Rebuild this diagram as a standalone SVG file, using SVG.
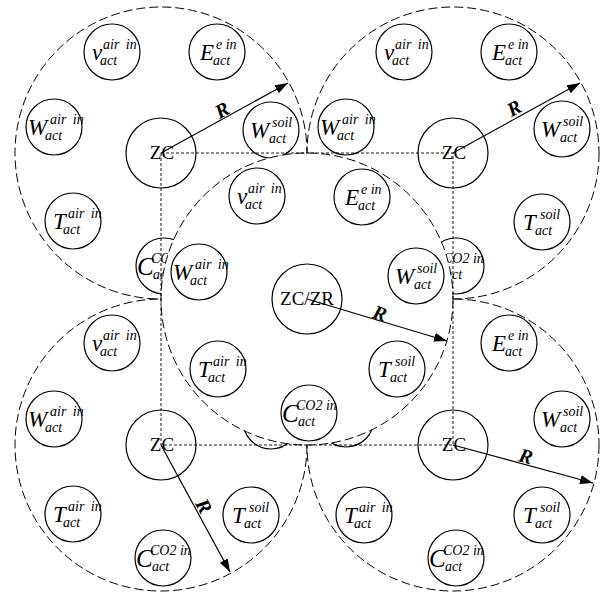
<svg xmlns="http://www.w3.org/2000/svg" width="603" height="592" viewBox="0 0 603 592">
<defs>
<style>
.zone{fill:none;stroke:#000;stroke-width:1;stroke-dasharray:9 4}
.zonec{fill:#fff;stroke:#000;stroke-width:1;stroke-dasharray:9 4}
.node{fill:none;stroke:#000;stroke-width:1.2}
.zcc{fill:none;stroke:#000;stroke-width:1.2}
.sq{fill:none;stroke:#000;stroke-width:0.9;stroke-dasharray:3 2}
.arr{fill:none;stroke:#000;stroke-width:1.2;marker-end:url(#ah)}
.m{font-family:"Liberation Serif",serif;font-style:italic;font-size:23px}
.mc{font-family:"Liberation Serif",serif;font-style:italic;font-size:25px}
.s{font-family:"Liberation Serif",serif;font-style:italic;font-size:14px}
.sw{font-family:"Liberation Serif",serif;font-style:italic;font-size:14px;word-spacing:3px}
.zc{font-family:"Liberation Serif",serif;font-size:19px;text-anchor:middle}
.r{font-family:"Liberation Serif",serif;font-style:italic;font-weight:bold;font-size:20px;text-anchor:middle}
</style>
<marker id="ah" markerUnits="userSpaceOnUse" markerWidth="14" markerHeight="10" refX="13" refY="4.5" orient="auto">
<path d="M0,0 L13,4.5 L0,9 z" fill="#000"/>
</marker>
</defs>
<rect width="603" height="592" fill="#fff"/>

<g id="zone-tl"><circle class="zone" cx="161" cy="153" r="146"/></g>
<g id="zone-tr"><circle class="zone" cx="453" cy="153" r="146"/></g>
<g id="zone-bl"><circle class="zone" cx="161" cy="445" r="146"/></g>
<g id="zone-br"><circle class="zone" cx="453" cy="445" r="146"/></g>

<g id="tl-v"><circle class="node" cx="112" cy="52" r="28"/><text class="m" x="92" y="60">v</text><text class="sw" x="103" y="49">air in</text><text class="s" x="100" y="65">act</text></g>
<g id="tl-e"><circle class="node" cx="217" cy="52" r="28"/><text class="m" x="200" y="60">E</text><text class="s" x="216" y="49">e in</text><text class="s" x="213" y="65">act</text></g>
<g id="tl-wa"><circle class="node" cx="54" cy="127" r="28"/><text class="m" x="28" y="135">W</text><text class="sw" x="50" y="124">air in</text><text class="s" x="45" y="140">act</text></g>
<g id="tl-ws"><circle class="node" cx="271" cy="130" r="28"/><text class="m" x="250" y="138">W</text><text class="s" x="272" y="127">soil</text><text class="s" x="269" y="143">act</text></g>
<g id="tl-ta"><circle class="node" cx="73" cy="221" r="28"/><text class="m" x="53" y="229">T</text><text class="sw" x="68" y="218">air in</text><text class="s" x="63" y="234">act</text></g>
<g id="tl-c"><circle class="node" cx="164" cy="266" r="28"/><text class="mc" x="137" y="275">C</text><text class="s" x="151" y="263">CO2 in</text><text class="s" x="153" y="279">act</text></g>

<g id="tr-v"><circle class="node" cx="404" cy="52" r="28"/><text class="m" x="384" y="60">v</text><text class="sw" x="395" y="49">air in</text><text class="s" x="392" y="65">act</text></g>
<g id="tr-e"><circle class="node" cx="509" cy="52" r="28"/><text class="m" x="492" y="60">E</text><text class="s" x="508" y="49">e in</text><text class="s" x="505" y="65">act</text></g>
<g id="tr-wa"><circle class="node" cx="346" cy="127" r="28"/><text class="m" x="320" y="135">W</text><text class="sw" x="342" y="124">air in</text><text class="s" x="337" y="140">act</text></g>
<g id="tr-ws"><circle class="node" cx="562" cy="129" r="28"/><text class="m" x="541" y="137">W</text><text class="s" x="563" y="126">soil</text><text class="s" x="560" y="142">act</text></g>
<g id="tr-ts"><circle class="node" cx="542" cy="222" r="28"/><text class="m" x="523" y="230">T</text><text class="s" x="540" y="219">soil</text><text class="s" x="535" y="235">act</text></g>
<g id="tr-c"><circle class="node" cx="456" cy="266" r="28"/><text class="mc" x="429" y="275">C</text><text class="s" x="443" y="263">CO2 in</text><text class="s" x="445" y="279">act</text></g>

<g id="bl-v"><circle class="node" cx="112" cy="343" r="28"/><text class="m" x="92" y="351">v</text><text class="sw" x="103" y="340">air in</text><text class="s" x="100" y="356">act</text></g>
<g id="bl-wa"><circle class="node" cx="54" cy="419" r="28"/><text class="m" x="28" y="427">W</text><text class="sw" x="50" y="416">air in</text><text class="s" x="45" y="432">act</text></g>
<g id="bl-ta"><circle class="node" cx="73" cy="514" r="28"/><text class="m" x="53" y="522">T</text><text class="sw" x="68" y="511">air in</text><text class="s" x="63" y="527">act</text></g>
<g id="bl-ts"><circle class="node" cx="251" cy="515" r="28"/><text class="m" x="232" y="523">T</text><text class="s" x="249" y="512">soil</text><text class="s" x="244" y="528">act</text></g>
<g id="bl-c"><circle class="node" cx="163" cy="558" r="28"/><text class="mc" x="136" y="567">C</text><text class="s" x="150" y="555">CO2 in</text><text class="s" x="152" y="571">act</text></g>
<g id="bl-ws"><circle class="node" cx="271" cy="421" r="28"/></g>

<g id="br-e"><circle class="node" cx="509" cy="343" r="28"/><text class="m" x="492" y="351">E</text><text class="s" x="508" y="340">e in</text><text class="s" x="505" y="356">act</text></g>
<g id="br-ws"><circle class="node" cx="562" cy="419" r="28"/><text class="m" x="541" y="427">W</text><text class="s" x="563" y="416">soil</text><text class="s" x="560" y="432">act</text></g>
<g id="br-ta"><circle class="node" cx="364" cy="515" r="28"/><text class="m" x="344" y="523">T</text><text class="sw" x="359" y="512">air in</text><text class="s" x="354" y="528">act</text></g>
<g id="br-ts"><circle class="node" cx="542" cy="515" r="28"/><text class="m" x="523" y="523">T</text><text class="s" x="540" y="512">soil</text><text class="s" x="535" y="528">act</text></g>
<g id="br-c"><circle class="node" cx="456" cy="558" r="28"/><text class="mc" x="429" y="567">C</text><text class="s" x="443" y="555">CO2 in</text><text class="s" x="445" y="571">act</text></g>
<g id="br-wa"><circle class="node" cx="346" cy="419" r="28"/></g>

<g id="zone-center"><circle class="zonec" cx="307" cy="299" r="146"/></g>

<g id="c-v"><circle class="node" cx="257" cy="196" r="28"/><text class="m" x="237" y="204">v</text><text class="sw" x="248" y="193">air in</text><text class="s" x="245" y="209">act</text></g>
<g id="c-e"><circle class="node" cx="362" cy="197" r="28"/><text class="m" x="345" y="205">E</text><text class="s" x="361" y="194">e in</text><text class="s" x="358" y="210">act</text></g>
<g id="c-wa"><circle class="node" cx="199" cy="272" r="28"/><text class="m" x="173" y="280">W</text><text class="sw" x="195" y="269">air in</text><text class="s" x="190" y="285">act</text></g>
<g id="c-ws"><circle class="node" cx="416" cy="276" r="28"/><text class="m" x="395" y="284">W</text><text class="s" x="417" y="273">soil</text><text class="s" x="414" y="289">act</text></g>
<g id="c-ta"><circle class="node" cx="218" cy="369" r="28"/><text class="m" x="198" y="377">T</text><text class="sw" x="213" y="366">air in</text><text class="s" x="208" y="382">act</text></g>
<g id="c-ts"><circle class="node" cx="397" cy="369" r="28"/><text class="m" x="378" y="377">T</text><text class="s" x="395" y="366">soil</text><text class="s" x="390" y="382">act</text></g>
<g id="c-c"><circle class="node" cx="309" cy="413" r="28"/><text class="mc" x="282" y="422">C</text><text class="s" x="296" y="410">CO2 in</text><text class="s" x="298" y="426">act</text></g>

<g id="zc-tl"><circle class="zcc" cx="161" cy="153" r="35"/></g>
<g id="zc-tr"><circle class="zcc" cx="453" cy="153" r="35"/></g>
<g id="zc-bl"><circle class="zcc" cx="161" cy="445" r="35"/></g>
<g id="zc-br"><circle class="zcc" cx="453" cy="445" r="35"/></g>
<g id="zczr"><circle class="zcc" cx="307" cy="299" r="35"/></g>

<g id="connectors">
<path class="sq" d="M161,153 H453 V445 H161 Z"/>
<line class="arr" x1="161" y1="153" x2="288" y2="83"/>
<line class="arr" x1="453" y1="153" x2="580" y2="83"/>
<line class="arr" x1="307" y1="299" x2="447" y2="341"/>
<line class="arr" x1="161" y1="445" x2="230" y2="572"/>
<line class="arr" x1="453" y1="445" x2="593" y2="483"/>
<text class="r" transform="translate(222,110) rotate(-29)" y="7">R</text>
<text class="r" transform="translate(514,108) rotate(-29)" y="7">R</text>
<text class="r" transform="translate(380,313) rotate(17)" y="7">R</text>
<text class="r" transform="translate(204,506) rotate(61)" y="7">R</text>
<text class="r" transform="translate(526,456) rotate(15)" y="7">R</text>
</g>

<g id="zc-labels">
<text class="zc" x="162" y="159">ZC</text>
<text class="zc" x="454" y="159">ZC</text>
<text class="zc" x="162" y="451">ZC</text>
<text class="zc" x="454" y="451">ZC</text>
<text class="zc" x="307" y="305">ZC/ZR</text>
</g>
</svg>
